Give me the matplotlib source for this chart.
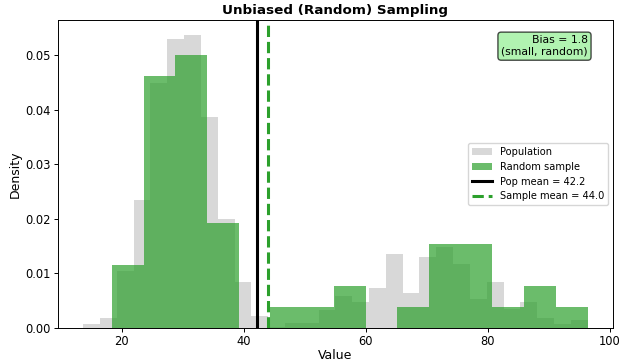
import numpy as np
import matplotlib
matplotlib.use("Agg")
import matplotlib.pyplot as plt

# Population histogram: 30 bins spanning the population range, density per bin
pop_min, pop_max = 13.7, 96.4
pop_density = [
    0.0007, 0.0018, 0.0105, 0.0234, 0.0449, 0.0529, 0.0537, 0.0386, 0.0200, 0.0084,
    0.0022, 0.0003, 0.0010, 0.0010, 0.0033, 0.0059, 0.0047, 0.0073, 0.0135, 0.0065,
    0.0131, 0.0149, 0.0117, 0.0053, 0.0084, 0.0035, 0.0047, 0.0018, 0.0007, 0.0014,
]

# Random sample (n = 50): counts in 15 bins spanning the sample range
sample_min, sample_max = 18.4, 96.4
sample_counts = [3, 12, 13, 5, 0, 1, 1, 2, 0, 1, 4, 4, 1, 2, 1]

pop_mean = 42.2
sample_mean = 44.0
bias = sample_mean - pop_mean

plt.rcParams["font.family"] = ["DejaVu Sans"]
plt.rcParams["font.size"] = 8.6

fig, ax = plt.subplots(figsize=(6.24, 3.63), dpi=100)
fig.subplots_adjust(left=0.093, right=0.982, top=0.945, bottom=0.096)

pop_edges = np.linspace(pop_min, pop_max, len(pop_density) + 1)
pop_centers = 0.5 * (pop_edges[:-1] + pop_edges[1:])
ax.hist(pop_centers, bins=pop_edges, weights=pop_density,
        color="gray", alpha=0.3, label="Population")

sample_edges = np.linspace(sample_min, sample_max, len(sample_counts) + 1)
sample_centers = 0.5 * (sample_edges[:-1] + sample_edges[1:])
ax.hist(sample_centers, bins=sample_edges, weights=sample_counts, density=True,
        color="tab:green", alpha=0.7, label="Random sample")

ax.axvline(pop_mean, color="black", linewidth=2.2,
           label=f"Pop mean = {pop_mean:.1f}")
ax.axvline(sample_mean, color="tab:green", linewidth=2.2, linestyle="--",
           label=f"Sample mean = {sample_mean:.1f}")

ax.tick_params(labelsize=8.3, length=2.6, pad=2.4, width=0.7)
for sp in ax.spines.values():
    sp.set_linewidth(0.7)
ax.set_title("Unbiased (Random) Sampling", fontsize=9.7, fontweight="bold", pad=4)
ax.set_xlabel("Value", fontsize=9.0, labelpad=1)
ax.set_ylabel("Density", fontsize=9.0, labelpad=3)
ax.legend(loc="center right", fontsize=7.1)

ax.text(0.955, 0.95, f"Bias = {bias:.1f}\n(small, random)",
        transform=ax.transAxes, ha="right", va="top", fontsize=7.8,
        bbox=dict(boxstyle="round", facecolor="lightgreen", alpha=0.7))

fig.savefig("out.png", dpi=100)
